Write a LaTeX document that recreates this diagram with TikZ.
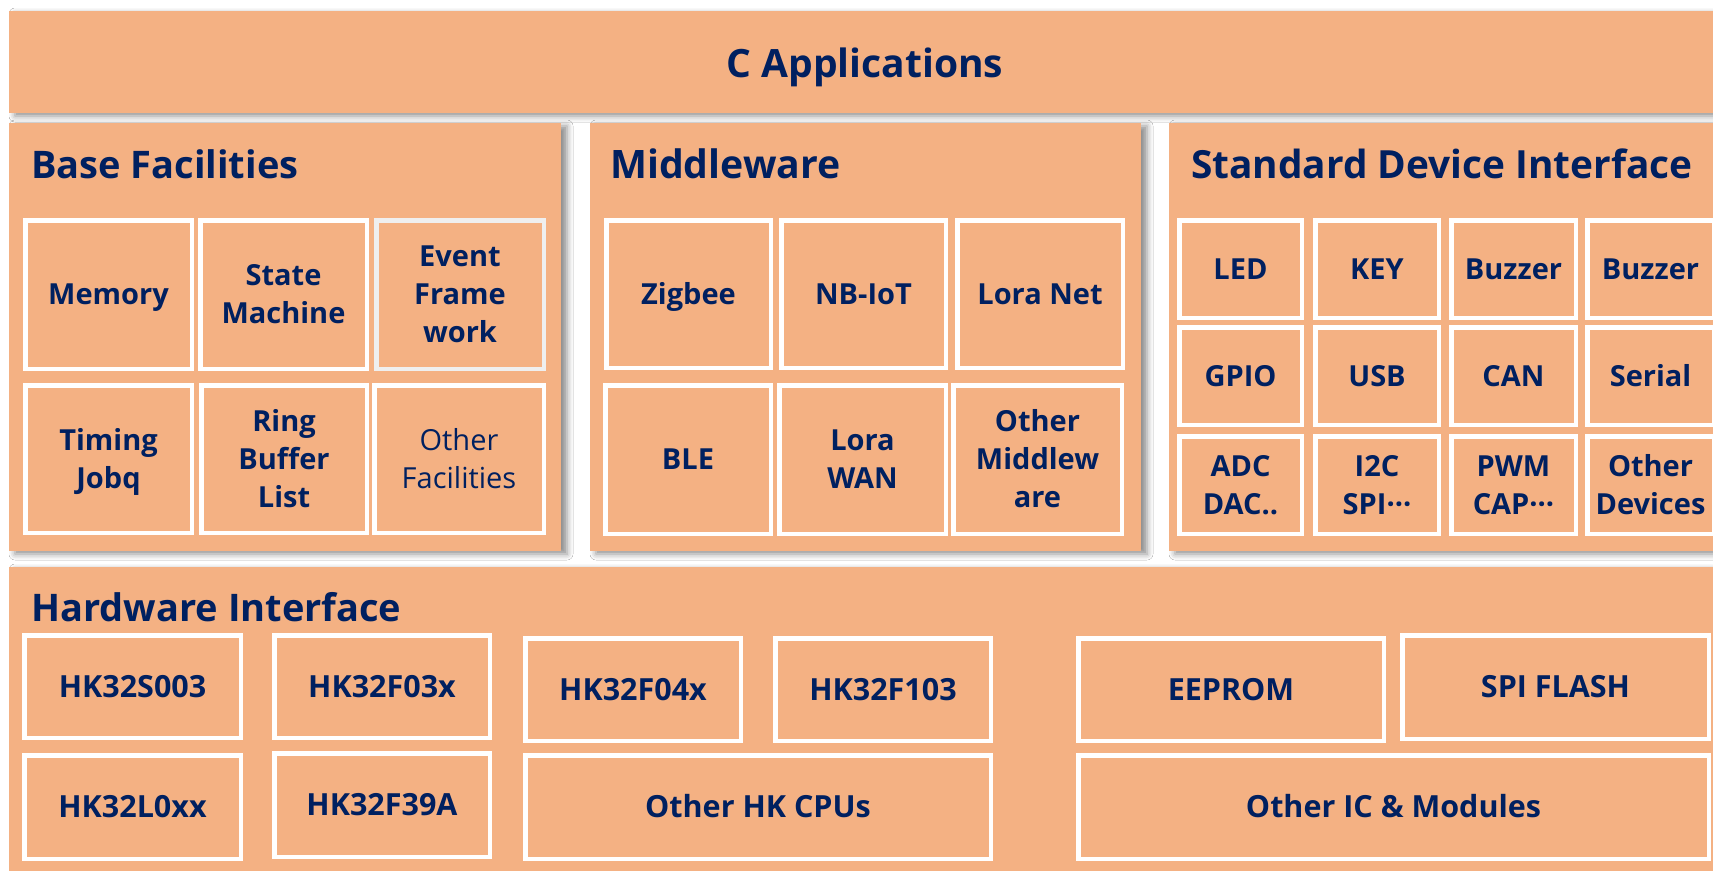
\documentclass[tikz,border=0pt]{standalone}
\usepackage{fontspec}
\setmainfont{Open Sans}
\usetikzlibrary{shadows.blur}
\definecolor{org}{HTML}{F4B183}
\definecolor{navy}{HTML}{002060}
\definecolor{evgrey}{HTML}{EFEFEF}
\newcommand\capln[1]{\rule{0pt}{\fontcharht\font`H}\smash{#1}}
\tikzset{
  panel/.style={fill=org, draw=none, inner sep=0pt, outer sep=0pt,
    blur shadow={shadow xshift=6pt, shadow yshift=-3pt, shadow blur radius=6pt, shadow opacity=45}},
  sbox/.style={fill=org, draw=white, line width=4.5pt, inner sep=0pt, outer sep=0pt,
    text=navy, align=center, font=\fontsize{29}{38}\selectfont\bfseries},
  hwbox/.style={sbox, font=\fontsize{30.5}{38}\selectfont\bfseries},
  ptitle/.style={text=navy, inner sep=0pt, anchor=base west, font=\fontsize{38}{46}\selectfont\bfseries},
}
\newcommand\pn[5]{\node[panel,minimum width={(#4-#2)*1pt},minimum height={(#5-#3)*1pt}] (#1) at ({(#2+#4)/2},{(#3+#5)/2}) {};}
\newcommand\bx[7][]{\node[sbox,#1,minimum width={(#5-#3-4.5)*1pt},minimum height={(#6-#4-4.5)*1pt}] (#2) at ({(#3+#5)/2},{(#4+#6)/2}) {#7};}
\begin{document}
\begin{tikzpicture}[x=1pt,y=-1pt]
\useasboundingbox (0,0) rectangle (1713,870);
\fill[white] (0,0) rectangle (1713,870);
% panels
\pn{app}{9}{11}{1740}{113}
\pn{base}{9}{123}{561}{551}
\pn{mid}{590}{123}{1141}{551}
\pn{sdi}{1169}{123}{1740}{551}
\pn{hw}{9}{567}{1740}{900}
% titles
\node[ptitle, anchor=base, font=\fontsize{39}{46}\selectfont\bfseries] (tapp) at (865,77) {C Applications};
\node[ptitle] (tbase) at (31,178) {Base Facilities};
\node[ptitle, font=\fontsize{39.2}{46}\selectfont\bfseries] (tmid) at (610,178) {Middleware};
\node[ptitle, font=\fontsize{38.8}{46}\selectfont\bfseries] (tsdi) at (1191,178) {Standard Device Interface};
\node[ptitle] (thw) at (31,621) {Hardware Interface};
% base facilities
\bx{mem}{23}{218}{194}{371}{\capln{Memory}}
\bx{sm}{198}{218}{369}{371}{\capln{State}\\\capln{Machine}}
\bx[draw=evgrey]{ev}{374}{218}{546}{371}{\capln{Event}\\\capln{Frame}\\\capln{work}}
\bx{tj}{23}{383}{194}{535}{\capln{Timing}\\\capln{Jobq}}
\bx{rb}{199}{383}{369}{535}{\capln{Ring}\\\capln{Buffer}\\\capln{List}}
\bx[font=\fontsize{29}{38}\selectfont\mdseries]{of}{372}{383}{546}{535}{\capln{Other}\\\capln{Facilities}}
% middleware
\bx{zig}{604}{218}{773}{370}{\capln{Zigbee}}
\bx{nb}{779}{218}{948}{370}{\capln{NB-IoT}}
\bx{lnet}{955}{218}{1125}{370}{\capln{Lora Net}}
\bx{ble}{603}{383}{773}{536}{\capln{BLE}}
\bx{lwan}{777}{383}{948}{536}{\capln{Lora}\\\capln{WAN}}
\bx{omw}{951}{383}{1124}{536}{\capln{Other}\\\capln{Middlew}\\\capln{are}}
% standard device interface
\bx{led}{1177}{218}{1304}{320}{\capln{LED}}
\bx{key}{1313}{218}{1441}{320}{\capln{KEY}}
\bx{buz1}{1449}{218}{1578}{320}{\capln{Buzzer}}
\bx{buz2}{1585}{218}{1716}{320}{\capln{Buzzer}}
\bx{gpio}{1177}{325}{1304}{427}{\capln{GPIO}}
\bx{usb}{1313}{325}{1441}{427}{\capln{USB}}
\bx{can}{1449}{325}{1578}{427}{\capln{CAN}}
\bx{ser}{1585}{325}{1716}{427}{\capln{Serial}}
\bx{adc}{1177}{434}{1304}{536}{\capln{ADC}\\\capln{DAC..}}
\bx{i2c}{1313}{434}{1441}{536}{\capln{I2C}\\\capln{SPI···}}
\bx{pwm}{1449}{434}{1578}{536}{\capln{PWM}\\\capln{CAP···}}
\bx{odev}{1585}{434}{1716}{536}{\capln{Other}\\\capln{Devices}}
% hardware interface
\bx[hwbox]{s003}{22}{633}{243}{740}{\capln{HK32S003}}
\bx[hwbox]{f03x}{272}{633}{492}{740}{\capln{HK32F03x}}
\bx[hwbox]{f04x}{523}{636}{743}{743}{\capln{HK32F04x}}
\bx[hwbox]{f103}{773}{636}{993}{743}{\capln{HK32F103}}
\bx[hwbox]{eep}{1076}{636}{1386}{743}{\capln{EEPROM}}
\bx[hwbox]{spif}{1400}{633}{1711}{741}{\capln{SPI FLASH}}
\bx[hwbox]{l0xx}{22}{753}{243}{861}{\capln{HK32L0xx}}
\bx[hwbox]{f39a}{272}{751}{492}{859}{\capln{HK32F39A}}
\bx[hwbox]{ohk}{523}{753}{993}{861}{\capln{Other HK CPUs}}
\bx[hwbox]{oic}{1076}{753}{1711}{861}{\capln{Other IC \& Modules}}
\end{tikzpicture}
\end{document}
